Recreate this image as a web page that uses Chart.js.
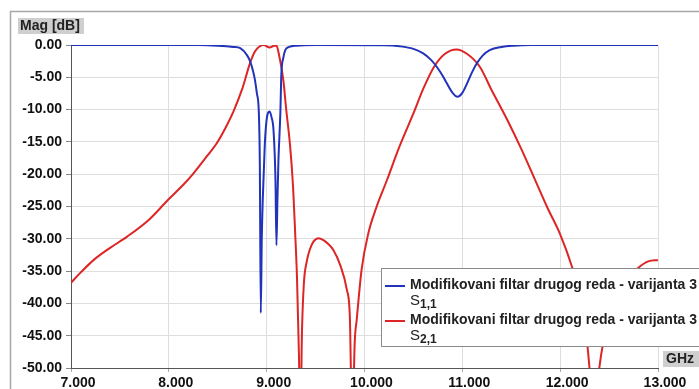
<!DOCTYPE html>
<html>
<head>
<meta charset="utf-8">
<script src="https://cdn.jsdelivr.net/npm/chart.js@4"></script>
<style>
  html, body { margin: 0; padding: 0; background: #fff; overflow: hidden; }
</style>
</head>
<body>
<canvas id="chS" width="699" height="389"></canvas>
<script>
// S parameters (GHz / dB)
var freqS11 = [7.00, 8.30, 8.50, 8.66, 8.73, 8.80, 8.83, 8.86, 8.88, 8.90, 8.92, 8.93, 8.94, 8.95, 8.96, 8.98,
    9.00, 9.03, 9.05, 9.07, 9.09, 9.10, 9.11, 9.12, 9.14, 9.15, 9.17, 9.19, 9.23, 9.30, 9.50,
    10.20, 10.36, 10.50, 10.60, 10.68, 10.74, 10.80, 10.84, 10.90, 10.95, 11.00, 11.05, 11.10, 11.15,
    11.21, 11.28, 11.40, 11.52, 11.70, 13.00];
var magS11 = [0, 0, -0.1, -0.3, -0.5, -1.6, -2.5, -4, -5.4, -7.5, -10.5, -18.3, -41.5, -30, -24, -15.7,
    -11.5, -10.3, -11.2, -13.2, -20.9, -31, -24, -18, -10.5, -4.5, -2, -0.8, -0.3, -0.1, 0,
    -0.05, -0.2, -0.6, -1.3, -2.3, -3.4, -4.8, -5.9, -7.4, -8.0, -7.4, -5.9, -4.2, -2.8,
    -1.6, -0.8, -0.3, -0.1, 0, 0];

var freqS21 = [7.00, 7.10, 7.23, 7.40, 7.57, 7.80, 7.99, 8.15, 8.25, 8.40, 8.49, 8.58, 8.66, 8.75, 8.83, 8.88,
    8.93, 8.97, 9.03, 9.08, 9.10, 9.13, 9.17, 9.20, 9.24, 9.27, 9.29, 9.31, 9.33, 9.345, 9.36, 9.38,
    9.41, 9.44, 9.48, 9.53, 9.58, 9.63, 9.68, 9.75, 9.82, 9.85, 9.875, 9.90, 9.92, 9.97, 10.04, 10.12,
    10.23, 10.35, 10.50, 10.60, 10.71, 10.82, 10.94, 11.05, 11.18, 11.30, 11.46, 11.60, 11.73, 11.87,
    12.00, 12.12, 12.22, 12.30, 12.34, 12.40, 12.50, 12.62, 12.80, 12.90, 13.00];
var magS21 = [-36.8, -35.2, -33.3, -31.4, -29.7, -27.0, -24.0, -21.6, -19.9, -17.0, -15.2, -12.8, -10.3, -6.8, -2.8, -1.0,
    -0.2, 0.0, -0.4, -0.1, -0.1, -1.8, -5.4, -10.0, -15.7, -22.0, -28.6, -36, -48, -60, -45, -37,
    -33.5, -31.7, -30.4, -29.9, -30.2, -30.8, -31.7, -34, -37.9, -42, -60, -46, -42.6, -34.8, -29.1, -25.2,
    -20.9, -16, -10.6, -6.8, -3.4, -1.4, -0.7, -1.4, -3.4, -7, -11.6, -16, -20.4, -25.2,
    -29.3, -34.3, -40, -50, -60, -50, -42, -37.5, -34.5, -33.5, -33.3];

var seriesNames = ['Modifikovani filtar drugog reda - varijanta 3', 'Modifikovani filtar drugog reda - varijanta 3'];
var seriesSubs = [['S', '1,1'], ['S', '2,1']];
var colors = ['#2233bb', '#dd2525'];
var fontFam = '"Liberation Sans", Arial, sans-serif';

function pts(xs, ys) {
    return xs.map(function (x, i) { return { x: x, y: ys[i] }; });
}

// frame, axis captions and legend box
var decor = {
    id: 'decor',
    beforeDraw: function (chart) {
        var c = chart.ctx;
        c.save();
        c.strokeStyle = '#a8a8a8';
        c.lineWidth = 1.5;
        c.beginPath();
        c.moveTo(10.5, 389);
        c.lineTo(10.5, 11.5);
        c.lineTo(699, 11.5);
        c.stroke();
        c.restore();
    },
    afterDraw: function (chart) {
        var c = chart.ctx;
        c.save();
        c.font = 'bold 14px ' + fontFam;
        c.textBaseline = 'middle';
        // Mag [dB]
        c.fillStyle = '#cfcfcf';
        c.fillRect(18, 18, 66, 16);
        c.fillStyle = '#222';
        c.fillText('Mag [dB]', 20, 26.5);
        // GHz
        c.fillStyle = '#cfcfcf';
        c.fillRect(663, 351, 36, 16);
        c.fillStyle = '#222';
        c.fillText('GHz', 666, 359.5);

        // legend
        c.fillStyle = '#fff';
        c.fillRect(381.5, 268.5, 330, 78);
        c.strokeStyle = '#8a8a8a';
        c.lineWidth = 1;
        c.strokeRect(381.5, 268.5, 330, 78);
        var rows = [285, 320];
        for (var i = 0; i < 2; i++) {
            var y = rows[i];
            c.strokeStyle = colors[i];
            c.lineWidth = 2;
            c.beginPath();
            c.moveTo(385, y + 1);
            c.lineTo(405, y + 1);
            c.stroke();
            c.fillStyle = '#222';
            c.font = 'bold 14px ' + fontFam;
            c.fillText(seriesNames[i], 410, y);
            c.font = '15px ' + fontFam;
            c.fillText(seriesSubs[i][0], 410, y + 16);
            var w = c.measureText(seriesSubs[i][0]).width;
            c.font = 'bold 12px ' + fontFam;
            c.fillText(seriesSubs[i][1], 410 + w, y + 20);
        }
        c.restore();
    }
};

var chS = document.getElementById('chS');
new Chart(chS, {
    type: 'line',
    data: {
        datasets: [
            {
                label: seriesNames[0],
                data: pts(freqS11, magS11),
                borderColor: colors[0],
                borderWidth: 2,
                pointRadius: 0,
                cubicInterpolationMode: 'monotone'
            },
            {
                label: seriesNames[1],
                data: pts(freqS21, magS21),
                borderColor: colors[1],
                borderWidth: 2,
                pointRadius: 0,
                cubicInterpolationMode: 'monotone'
            }
        ]
    },
    options: {
        responsive: false,
        animation: false,
        devicePixelRatio: 1,
        layout: { padding: { left: 0, top: 45, right: 41, bottom: 0 } },
        plugins: { legend: { display: false }, tooltip: { enabled: false } },
        scales: {
            x: {
                type: 'linear',
                min: 7, max: 13,
                afterFit: function (s) { s.height = 21; },
                grid: { color: '#dedede', tickColor: '#aaa', tickLength: 4 },
                border: { color: '#555' },
                ticks: {
                    stepSize: 1,
                    padding: 3,
                    labelOffset: 7,
                    maxRotation: 0,
                    color: '#111',
                    font: { family: fontFam, size: 14, weight: 'bold' },
                    callback: function (v) { return v.toFixed(3); }
                }
            },
            y: {
                min: -50, max: 0,
                afterFit: function (s) { s.width = 71; },
                grid: { color: '#dedede', tickColor: '#888', tickLength: 5 },
                border: { color: '#555' },
                ticks: {
                    stepSize: 5,
                    autoSkip: false,
                    padding: 4,
                    color: '#111',
                    font: { family: fontFam, size: 14, weight: 'bold' },
                    callback: function (v) { return v.toFixed(2); }
                }
            }
        }
    },
    plugins: [decor]
});
</script>
</body>
</html>
